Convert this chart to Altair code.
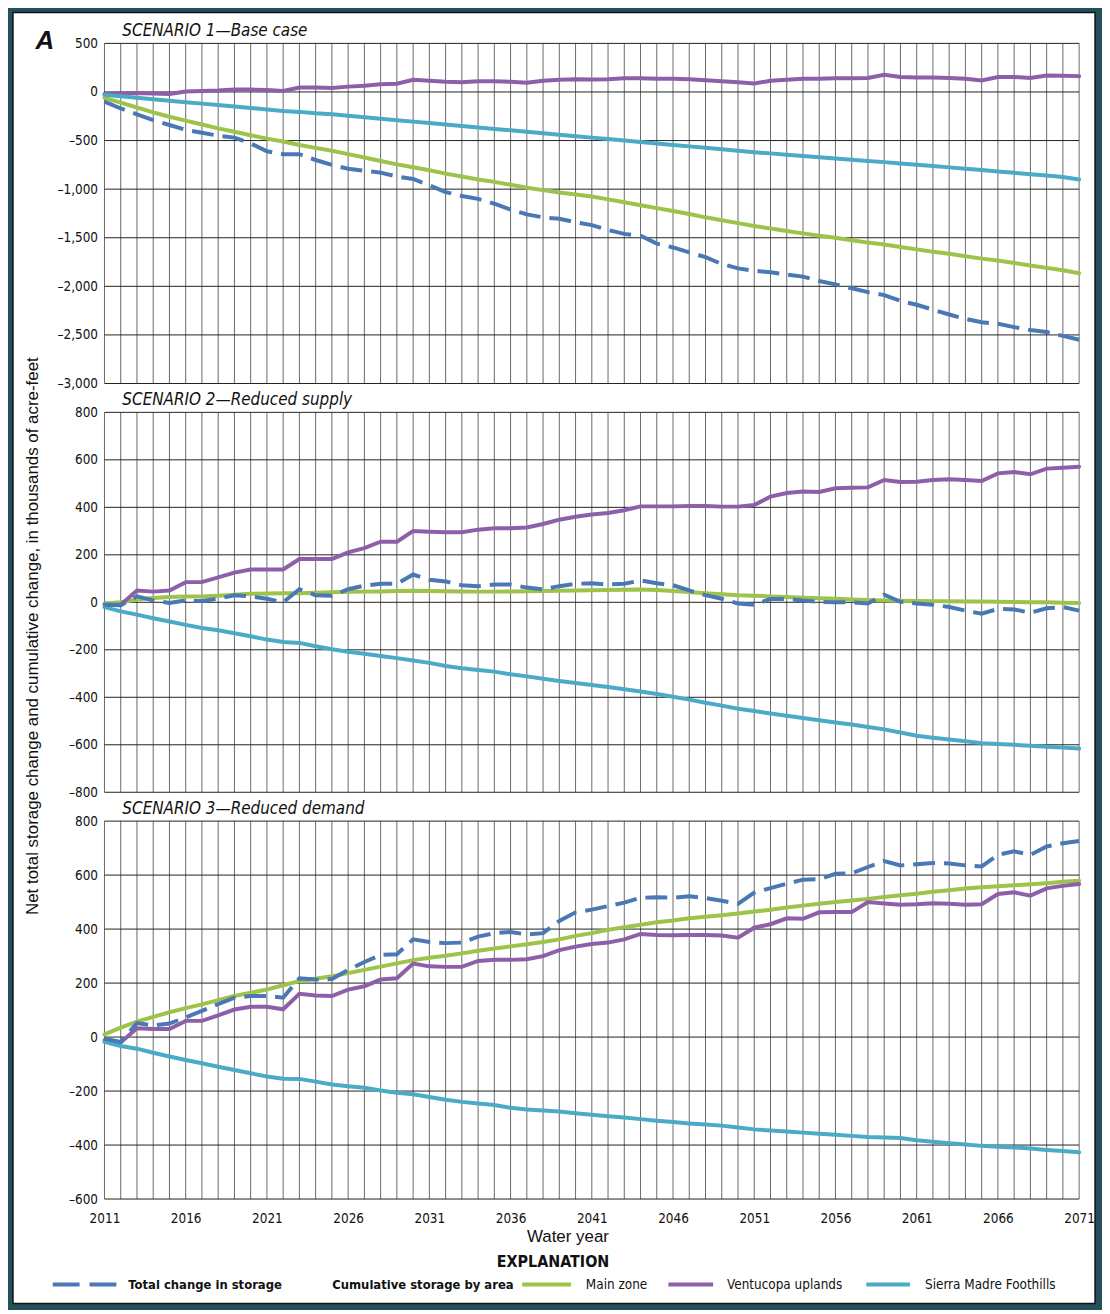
import altair as alt
import pandas as pd

years = list(range(2011, 2072))

# ---------------- Scenario 1 — Base case ----------------
s1_total = [-100, -170, -230, -290, -340, -390, -420, -450, -470, -530,
            -610, -640, -640, -700, -750, -790, -810, -830, -870, -895,
            -960, -1030, -1070, -1100, -1150, -1210, -1260, -1290, -1305, -1340,
            -1370, -1420, -1460, -1480, -1560, -1600, -1650, -1700, -1770, -1815,
            -1840, -1855, -1880, -1900, -1945, -1980, -2020, -2060, -2090, -2150,
            -2190, -2240, -2290, -2335, -2370, -2385, -2420, -2450, -2470, -2510,
            -2550]
s1_main = [-60, -110, -160, -210, -255, -295, -335, -375, -410, -445,
           -480, -510, -545, -575, -605, -640, -675, -710, -745, -775,
           -805, -840, -870, -900, -925, -955, -985, -1010, -1035, -1055,
           -1075, -1105, -1135, -1165, -1195, -1225, -1255, -1290, -1320, -1350,
           -1380, -1405, -1430, -1455, -1480, -1500, -1525, -1550, -1570, -1595,
           -1620, -1645, -1665, -1690, -1715, -1735, -1760, -1785, -1810, -1835,
           -1865]
s1_vent = [-20, -15, -10, -15, -20, 5, 10, 15, 25, 25,
           20, 10, 45, 45, 40, 55, 65, 80, 85, 125,
           115, 105, 100, 110, 110, 105, 95, 115, 125, 130,
           128, 130, 140, 140, 135, 135, 130, 120, 110, 100,
           88, 115, 125, 136, 135, 140, 142, 143, 177, 155,
           150, 148, 143, 135, 119, 153, 155, 143, 170, 168,
           163]
s1_sierra = [-30, -45, -60, -75, -90, -105, -120, -135, -150, -165,
             -180, -195, -205, -220, -230, -245, -260, -275, -290, -305,
             -320, -335, -350, -365, -380, -395, -410, -425, -440, -455,
             -470, -485, -500, -515, -530, -545, -560, -575, -590, -605,
             -620, -632, -645, -658, -672, -685, -698, -710, -722, -735,
             -748, -762, -776, -790, -804, -818, -832, -846, -860, -875,
             -900]

# ---------------- Scenario 2 — Reduced supply ----------------
s2_total = [-10, -12, 25, 8, -3, 8, 6, 15, 30, 25,
            15, 0, 55, 30, 28, 55, 70, 78, 78, 117,
            95, 88, 72, 68, 75, 75, 62, 55, 68, 78,
            80, 75, 78, 92, 80, 72, 50, 30, 15, -5,
            -10, 14, 14, 8, 2, 0, 0, -5, 32, 2,
            -5, -10, -20, -35, -48, -28, -30, -44, -25, -20,
            -35]
s2_main = [-5, 0, 12, 18, 22, 24, 25, 28, 32, 36,
           37, 38, 38, 40, 42, 44, 45, 46, 48, 49,
           48, 47, 46, 45, 45, 46, 47, 48, 49, 50,
           51, 52, 53, 54, 52, 48, 43, 38, 34, 30,
           28, 25, 22, 19, 17, 15, 12, 10, 8, 7,
           6, 5, 4, 3, 3, 2, 1, 0, 0, -2,
           -3]
s2_vent = [-10, -10, 50, 45, 50, 85, 85, 105, 125, 138,
           138, 138, 182, 182, 182, 210, 228, 255, 255, 300,
           297, 295, 295, 306, 312, 312, 315, 330, 348, 360,
           370, 376, 388, 404, 404, 404, 406, 406, 403, 403,
           410, 445, 460, 467, 465, 480, 482, 484, 515, 507,
           508, 515, 518, 515, 511, 543, 549, 539, 563, 567,
           571]
s2_sierra = [-20, -38, -52, -67, -81, -95, -108, -118, -130, -143,
             -157, -167, -171, -185, -198, -208, -217, -226, -235, -245,
             -255, -268, -278, -285, -292, -303, -312, -322, -331, -340,
             -348, -357, -366, -376, -386, -398, -410, -423, -435, -448,
             -458, -468, -478, -487, -497, -506, -515, -525, -535, -548,
             -562, -570, -578, -585, -593, -597, -600, -604, -608, -612,
             -616]

# ---------------- Scenario 3 — Reduced demand ----------------
s3_total = [-6, -18, 52, 43, 50, 73, 97, 122, 146, 152,
            152, 146, 218, 213, 215, 249, 278, 304, 307, 362,
            352, 348, 350, 372, 385, 389, 380, 385, 430, 462,
            472, 485, 498, 516, 518, 516, 522, 515, 505, 493,
            535, 552, 568, 583, 585, 605, 607, 630, 652, 636,
            640, 645, 643, 636, 632, 675, 688, 675, 706, 718,
            726]
s3_main = [10, 35, 57, 75, 92, 107, 121, 137, 152, 164,
           176, 192, 207, 216, 225, 237, 249, 261, 273, 285,
           294, 301, 310, 320, 328, 336, 344, 352, 362, 375,
           385, 397, 407, 416, 425, 432, 440, 446, 451, 458,
           465, 472, 480, 487, 494, 500, 506, 512, 519, 525,
           531, 538, 544, 550, 555, 559, 562, 566, 570, 575,
           579]
s3_vent = [-12, -20, 33, 30, 30, 60, 60, 80, 102, 112,
           112, 103, 160, 154, 152, 176, 188, 213, 218, 272,
           262, 260, 260, 282, 286, 286, 288, 300, 322, 335,
           345, 350, 362, 382, 378, 377, 378, 378, 376, 368,
           405, 418, 440, 438, 462, 463, 463, 500, 495, 490,
           492, 496, 494, 490, 492, 530, 536, 524, 551, 560,
           567]
s3_sierra = [-18, -33, -43, -58, -72, -85, -97, -110, -122, -134,
             -146, -154, -155, -165, -176, -182, -188, -198, -206, -212,
             -222, -232, -240, -246, -252, -262, -268, -272, -276, -282,
             -288, -293, -298, -304, -310, -315, -320, -324, -328, -335,
             -342, -346, -350, -354, -358, -362, -366, -370, -372, -374,
             -382, -388, -393, -398, -403, -406, -409, -413, -418, -422,
             -427]

panel_titles = ["SCENARIO 1\u2014Base case", "SCENARIO 2\u2014Reduced supply",
                "SCENARIO 3\u2014Reduced demand"]
ticks1 = [-3000, -2500, -2000, -1500, -1000, -500, 0, 500]
ticks2 = [-800, -600, -400, -200, 0, 200, 400, 600, 800]
ticks3 = [-600, -400, -200, 0, 200, 400, 600, 800]

series_names = ["Total change in storage", "Main zone", "Ventucopa uplands",
                "Sierra Madre Foothills"]
colors = ["#4a78b5", "#9dc34a", "#8e5fa8", "#4aabc6"]

y_title = "Net total storage change and cumulative change, in thousands of acre-feet"
x_title = "Water year"
legend_heading = "EXPLANATION"
legend_group = "Cumulative storage by area"

FONT = "Liberation Sans Narrow, DejaVu Sans Condensed, Arial Narrow, sans-serif"
FONT_REG = "Liberation Sans, Arial, sans-serif"
DASH = [22, 9]


def long_df(total, main, vent, sierra):
    rows = []
    for name, vals in zip(series_names, [total, main, vent, sierra]):
        for yr, v in zip(years, vals):
            rows.append({"year": yr, "value": v, "series": name})
    return pd.DataFrame(rows)


one = alt.Data(values=[{}])


def text_layer(txt, x, y, **kw):
    return alt.Chart(one).mark_text(text=txt, **kw).encode(
        x=alt.value(x), y=alt.value(y))


def panel(df, ticks, domain, height, idx):
    last = idx == 2
    x_scale = alt.Scale(domain=[2011, 2071], nice=False, zero=False)
    y_scale = alt.Scale(domain=domain, nice=False, zero=False)
    if last:
        x_axis = alt.Axis(values=years, title=None, grid=False,
                          ticks=False, domain=False, labelOverlap=False,
                          labelFlush=False, labelPadding=13, labelFontSize=13.5,
                          labelFont=FONT, labelColor="#111",
                          labelExpr="(datum.value - 2011) % 5 == 0 ? format(datum.value, 'd') : ''",
                          zindex=1)
    else:
        x_axis = None
    y_axis = alt.Axis(values=ticks, title=None, grid=False,
                      ticks=False, domain=False, labelPadding=7,
                      labelFontSize=13.5, labelFont=FONT, labelColor="#111",
                      labelExpr="replace(format(datum.value, ',.0f'), '\u2212', '\u2013')",
                      zindex=1)

    layers = []
    if idx == 0:
        layers.append(
            alt.Chart(one).mark_rect(fill="white", stroke="#111", strokeWidth=1.5)
            .encode(x=alt.value(-92), x2=alt.value(996),
                    y=alt.value(-31), y2=alt.value(1267)))
    vgrid = alt.Chart(pd.DataFrame({"year": years})).mark_rule(
        color="#6a6a6a", strokeWidth=1).encode(
        x=alt.X("year:Q", scale=x_scale, axis=x_axis))
    hgrid = alt.Chart(pd.DataFrame({"v": ticks})).mark_rule(
        color="#222222", strokeWidth=1).encode(
        y=alt.Y("v:Q", scale=y_scale, axis=y_axis))
    solid = alt.Chart(df[df.series != series_names[0]]).mark_line(
        strokeWidth=4, strokeCap="round").encode(
        x=alt.X("year:Q", scale=x_scale, axis=x_axis),
        y=alt.Y("value:Q", scale=y_scale, axis=y_axis),
        color=alt.Color("series:N", scale=alt.Scale(domain=series_names, range=colors),
                        legend=None))
    dashed = alt.Chart(df[df.series == series_names[0]]).mark_line(
        strokeWidth=4, strokeDash=DASH, color=colors[0]).encode(
        x=alt.X("year:Q", scale=x_scale, axis=x_axis),
        y=alt.Y("value:Q", scale=y_scale, axis=y_axis))
    layers += [vgrid, hgrid, solid, dashed]

    layers.append(text_layer(panel_titles[idx], 18, -7, align="left",
                             baseline="alphabetic", font=FONT, fontSize=17,
                             fontStyle="italic", color="#111"))
    if idx == 0:
        layers.append(text_layer("A", -60, 6, align="center", baseline="alphabetic",
                                 font=FONT_REG, fontSize=26, fontWeight="bold",
                                 fontStyle="italic", color="#111"))
    if idx == 1:
        layers.append(text_layer(y_title, -72, 225, align="center", baseline="middle",
                                 angle=270, font=FONT_REG, fontSize=17, color="#111"))
    if last:
        layers.append(text_layer(x_title, 466, 418, align="center", baseline="middle",
                                 font=FONT_REG, fontSize=17, color="#111"))
        layers.append(text_layer(legend_heading, 451, 443, align="center",
                                 baseline="middle", font=FONT, fontSize=16,
                                 fontWeight="bold", color="#111"))
        ly = 466
        layers.append(alt.Chart(one).mark_rule(color=colors[0], strokeWidth=4,
                                               strokeDash=[27, 10]).encode(
            x=alt.value(-52), x2=alt.value(12), y=alt.value(ly)))
        layers.append(text_layer(series_names[0], 24, ly, align="left", baseline="middle",
                                 font=FONT, fontSize=13, fontWeight="bold", color="#111"))
        layers.append(text_layer(legend_group, 229, ly, align="left", baseline="middle",
                                 font=FONT, fontSize=13, fontWeight="bold", color="#111"))
        for (x1, x2, tx), name, col in zip([(420, 469, 484), (567, 612, 626), (766, 810, 825)],
                                           series_names[1:], colors[1:]):
            layers.append(alt.Chart(one).mark_rule(color=col, strokeWidth=4).encode(
                x=alt.value(x1), x2=alt.value(x2), y=alt.value(ly)))
            layers.append(text_layer(name, tx, ly, align="left", baseline="middle",
                                     font=FONT, fontSize=13.5, color="#111"))

    return alt.layer(*layers).properties(width=980, height=height)


p1 = panel(long_df(s1_total, s1_main, s1_vent, s1_sierra), ticks1, [-3000, 500], 342, 0)
p2 = panel(long_df(s2_total, s2_main, s2_vent, s2_sierra), ticks2, [-800, 800], 382, 1)
p3 = panel(long_df(s3_total, s3_main, s3_vent, s3_sierra), ticks3, [-600, 800], 380, 2)

chart = alt.vconcat(p1, p2, p3, spacing=29, bounds="flush").properties(
    background="#24505c",
    padding={"left": 4, "top": 0, "right": 6, "bottom": 2},
).configure_view(strokeWidth=0)

chart.save("out.html", embed_options={"renderer": "svg", "actions": False})
